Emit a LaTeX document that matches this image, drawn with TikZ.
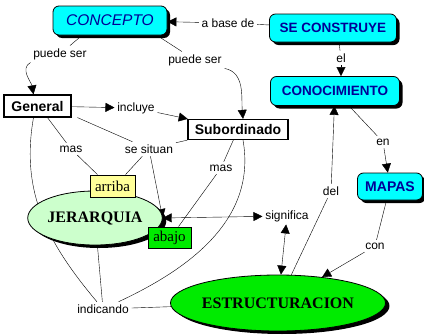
\documentclass[tikz,border=0pt]{standalone}
\usepackage{fontspec}
\setmainfont{Liberation Serif}
\setsansfont{Liberation Sans}
\usetikzlibrary{arrows.meta,shapes.geometric,shadows,backgrounds}
\definecolor{azul}{RGB}{0,0,150}
\definecolor{celeste}{RGB}{0,255,255}
\definecolor{verdeclaro}{RGB}{204,255,204}
\definecolor{verde}{RGB}{0,235,0}
\definecolor{amarillo}{RGB}{255,255,153}
\tikzset{
  concepto/.style={rectangle, rounded corners=6pt, draw=black, line width=0.8pt, fill=celeste,
    text=azul, inner sep=0pt,
    drop shadow={shadow xshift=3pt, shadow yshift=-3pt, fill=black, opacity=1}},
  caja/.style={rectangle, draw=black, line width=1.2pt, fill=white, inner sep=0pt,
    font=\sffamily\bfseries\fontsize{14}{16}\selectfont},
  etiqueta/.style={rectangle, draw=black, line width=0.8pt, inner sep=0pt,
    font=\fontsize{15}{17}\selectfont},
  elipse/.style={ellipse, draw=black, line width=0.8pt, inner sep=0pt,
    font=\bfseries\fontsize{16}{18}\selectfont,
    drop shadow={shadow xshift=4pt, shadow yshift=-3pt, fill=black, opacity=1}},
  enlace/.style={inner sep=2.5pt, font=\sffamily\fontsize{12}{14}\selectfont},
  flecha/.style={-{Triangle[length=9pt,width=9pt]}},
  doble/.style={{Triangle[length=9pt,width=9pt]}-{Triangle[length=9pt,width=9pt]}},
}
\begin{document}
\begin{tikzpicture}[x=1pt,y=-1pt,line width=0.7pt]
  \useasboundingbox (0,0) rectangle (424,335);
  % conceptos
  \node[concepto, minimum width=114pt, minimum height=29pt,
    font=\sffamily\itshape\fontsize{15.5}{18}\selectfont] (concepto) at (110,20.5) {CONCEPTO};
  \node[concepto, minimum width=127pt, minimum height=28pt,
    font=\sffamily\bfseries\fontsize{13.5}{16}\selectfont] (construye) at (333,28) {SE CONSTRUYE};
  \node[concepto, minimum width=129pt, minimum height=29pt,
    font=\sffamily\bfseries\fontsize{13.5}{16}\selectfont] (conocimiento) at (335,91) {CONOCIMIENTO};
  \node[concepto, minimum width=65pt, minimum height=27pt,
    font=\sffamily\bfseries\fontsize{14}{16}\selectfont] (mapas) at (390,186.5) {MAPAS};
  \node[caja, minimum width=67pt, minimum height=22pt] (general) at (37.5,106) {General};
  \node[caja, minimum width=100pt, minimum height=20pt] (subordinado) at (238,129.5) {Subordinado};
  \node[elipse, fill=verdeclaro, minimum width=120pt, minimum height=54pt] (jerarquia) at (95,218) {JERARQUIA};
  \node[etiqueta, fill=amarillo, minimum width=45pt, minimum height=22pt] (arriba) at (112.5,186) {arriba};
  \node[etiqueta, fill=verde, minimum width=43pt, minimum height=21pt] (abajo) at (169.5,237.5) {abajo};
  \node[elipse, fill=verde, minimum width=173pt, minimum height=56pt] (estructuracion) at (278,303) {ESTRUCTURACION};
  % frases de enlace
  \node[enlace] (abase) at (228,23) {a base de};
  \node[enlace] (el) at (341,58) {el};
  \node[enlace] (en) at (383,142) {en};
  \node[enlace] (con) at (375,246) {con};
  \node[enlace] (del) at (331,191) {del};
  \node[enlace] (puedeA) at (60,54) {puede ser};
  \node[enlace] (puedeB) at (195,60) {puede ser};
  \node[enlace] (incluye) at (136,108) {incluye};
  \node[enlace] (masA) at (71,149) {mas};
  \node[enlace] (situan) at (149,149) {se situan};
  \node[enlace] (masB) at (221,168) {mas};
  \node[enlace] (significa) at (287,216) {significa};
  \node[enlace] (indicando) at (103,309) {indicando};
  % conexiones
  \begin{scope}[on background layer]
  \draw (construye) -- (abase);
  \draw[flecha] (abase) -- (concepto);
  \draw ([xshift=6pt]construye.south) -- (el);
  \draw[flecha] (el) -- ([xshift=6pt]conocimiento.north);
  \draw (conocimiento) -- (en);
  \draw[flecha] (en) -- (mapas);
  \draw (mapas) -- (con);
  \draw[flecha] (con) -- (estructuracion);
  \draw (estructuracion) -- (del);
  \draw[flecha] (del) -- (conocimiento);
  \draw ([xshift=-28pt]concepto.south) -- (puedeA);
  \draw[flecha] (puedeA.south west) to[out=-150,in=100] ([xshift=-4pt]general.north);
  \draw ([xshift=47pt]concepto.south) -- (puedeB);
  \draw[flecha] (puedeB.south east) to[out=-10,in=95] ([xshift=5pt]subordinado.north);
  \draw[flecha] (general) -- (incluye);
  \draw[flecha] (incluye) -- (subordinado);
  \draw ([xshift=10pt]general.south) -- (masA);
  \draw (masA) -- ([xshift=-15pt]arriba.north);
  \draw ([xshift=40pt]general.south) -- (situan);
  \draw (subordinado.south west) -- (situan);
  \draw (situan) -- ([xshift=13pt]arriba.north);
  \draw[flecha] (situan) -- (jerarquia.east);
  \draw (subordinado) -- (masB);
  \draw (masB) -- ([xshift=9pt]abajo.north);
  \draw[doble] (jerarquia.east) -- (significa);
  \draw[doble] (significa) -- (estructuracion);
  \draw ([xshift=-4pt]general.south) to[out=-100,in=130] (indicando);
  \draw (jerarquia) -- (indicando);
  \draw ([xshift=5pt]subordinado.south) to[out=-80,in=25] (indicando);
  \draw (indicando) -- (estructuracion);
  \end{scope}
\end{tikzpicture}
\end{document}
